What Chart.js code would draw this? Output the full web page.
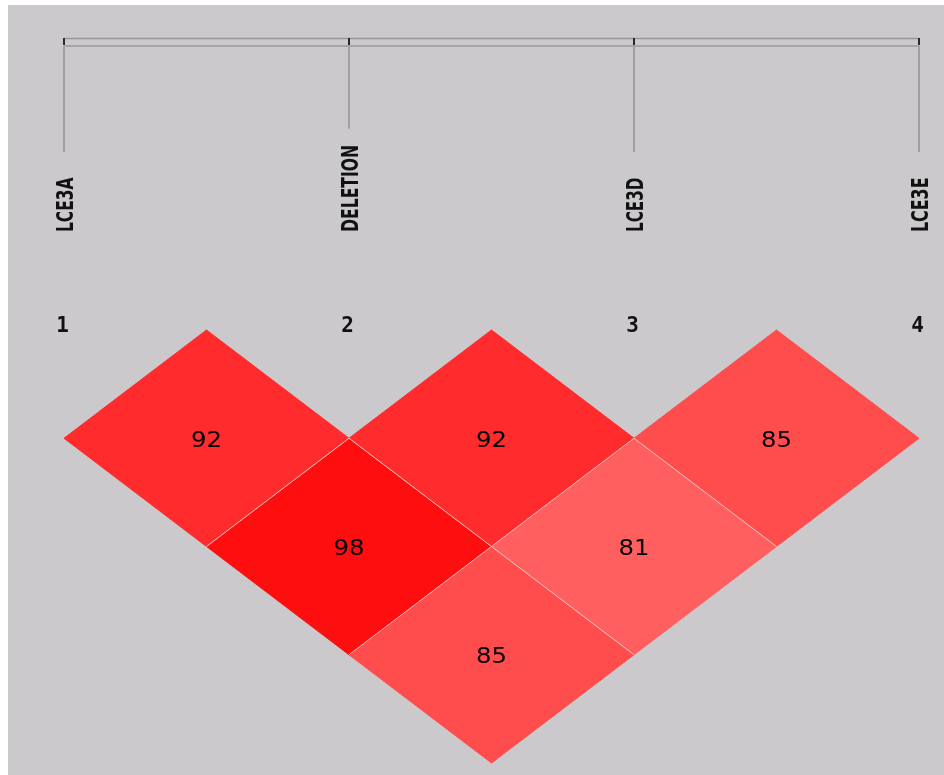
<!DOCTYPE html>
<html>
<head>
<meta charset="utf-8">
<script src="https://cdn.jsdelivr.net/npm/chart.js@4"></script>
<style>
  html, body { margin: 0; padding: 0; background: #ffffff; }
  canvas { display: block; }
</style>
</head>
<body>
<canvas id="ld_chart" width="944" height="775"></canvas>
<script>
// markers along the top
const marker_names = ["LCE3A", "DELETION", "LCE3D", "LCE3E"];
const marker_numbers = ["1", "2", "3", "4"];

// pairwise D' values (first marker, second marker, value)
const pair_first = [1, 2, 3, 1, 2, 1];
const pair_second = [2, 3, 4, 3, 4, 4];
const d_prime = [92, 92, 85, 98, 81, 85];

// red shade gets lighter as D' drops
function cell_color(v) {
  const g = Math.round(4.5 + (100 - v) * 4.76);
  const b = Math.round(6 + (100 - v) * 4.7);
  return `rgb(255, ${g}, ${b})`;
}

// one closed diamond per pair, in (marker, distance) space
const datasets = d_prime.map((v, k) => {
  const a = pair_first[k];
  const b = pair_second[k];
  const cx = (a + b) / 2;
  const d = b - a;
  return {
    label: marker_names[a - 1] + " / " + marker_names[b - 1],
    data: [
      { x: cx, y: d - 1 },
      { x: cx + 0.5, y: d },
      { x: cx, y: d + 1 },
      { x: cx - 0.5, y: d },
      { x: cx, y: d - 1 }
    ],
    backgroundColor: cell_color(v),
    borderColor: cell_color(v),
    borderWidth: 1,
    pointRadius: 0,
    tension: 0,
    fill: "shape",
    clip: false
  };
});

// draw text squeezed/stretched to a given length
function fit_text(ctx, txt, x, y, width, angle) {
  ctx.save();
  ctx.translate(x, y);
  ctx.rotate(angle);
  const m = ctx.measureText(txt).width;
  ctx.scale(width / m, 1);
  ctx.fillText(txt, 0, 0);
  ctx.restore();
}

const ld_plugin = {
  id: "ld_plugin",
  beforeDraw(chart) {
    const ctx = chart.ctx;
    ctx.save();
    ctx.fillStyle = "#cbc9cc";
    ctx.fillRect(8, 5, chart.width - 8, chart.height - 5);
    ctx.restore();
  },
  afterDatasetsDraw(chart) {
    const ctx = chart.ctx;
    const xs = chart.scales.x;
    ctx.save();

    // inner separators between touching diamonds
    ctx.strokeStyle = "rgba(236, 205, 205, 0.95)";
    ctx.lineWidth = 1;
    d_prime.forEach((v, k) => {
      if (pair_second[k] - pair_first[k] < 2) return;
      const pts = chart.getDatasetMeta(k).data;
      ctx.beginPath();
      ctx.moveTo(pts[3].x, pts[3].y);
      ctx.lineTo(pts[0].x, pts[0].y);
      ctx.lineTo(pts[1].x, pts[1].y);
      ctx.stroke();
    });

    // D' numbers in the cells
    ctx.fillStyle = "#000000";
    ctx.font = '21px "DejaVu Sans"';
    ctx.textAlign = "center";
    ctx.textBaseline = "alphabetic";
    d_prime.forEach((v, k) => {
      const pts = chart.getDatasetMeta(k).data;
      const cx = (pts[0].x + pts[2].x) / 2;
      const cy = (pts[0].y + pts[2].y) / 2;
      fit_text(ctx, String(v), cx, cy + 8.5, 31, 0);
    });

    // ruler on top
    const x0 = xs.getPixelForValue(1);
    const x1 = xs.getPixelForValue(marker_names.length);
    ctx.strokeStyle = "#999999";
    ctx.lineWidth = 1.5;
    ctx.beginPath();
    ctx.moveTo(x0, 38.5); ctx.lineTo(x1, 38.5);
    ctx.moveTo(x0, 46); ctx.lineTo(x1, 46);
    ctx.stroke();

    marker_names.forEach((name, i) => {
      const px = xs.getPixelForValue(i + 1);
      const w = 10.9 * name.length;
      const top = 232 - w;
      const line_end = Math.min(152, top - 16);

      ctx.strokeStyle = "#a0a0a0";
      ctx.lineWidth = 2;
      ctx.beginPath();
      ctx.moveTo(px, 46);
      ctx.lineTo(px, line_end);
      ctx.stroke();

      ctx.strokeStyle = "#2a2a2a";
      ctx.beginPath();
      ctx.moveTo(px, 38);
      ctx.lineTo(px, 45);
      ctx.stroke();

      // marker name, reading upwards
      ctx.fillStyle = "#111111";
      ctx.font = 'bold 23px "DejaVu Sans"';
      ctx.textAlign = "left";
      ctx.textBaseline = "alphabetic";
      fit_text(ctx, name, px + 8.5, 232, w, -Math.PI / 2);

      // marker number
      ctx.font = 'bold 21px "DejaVu Sans Mono"';
      ctx.textAlign = "center";
      ctx.fillText(marker_numbers[i], px - 1.5, 332);
    });

    ctx.restore();
  }
};

const chart = new Chart(document.getElementById("ld_chart").getContext("2d"), {
  type: "line",
  data: { datasets: datasets },
  options: {
    responsive: false,
    animation: false,
    layout: { padding: { left: 64, right: 25, top: 330, bottom: 12 } },
    scales: {
      x: { type: "linear", min: 1, max: marker_names.length, display: false },
      y: { type: "linear", min: 0, max: marker_names.length, reverse: true, display: false }
    },
    plugins: {
      legend: { display: false },
      tooltip: { enabled: false }
    }
  },
  plugins: [ld_plugin]
});
</script>
</body>
</html>
